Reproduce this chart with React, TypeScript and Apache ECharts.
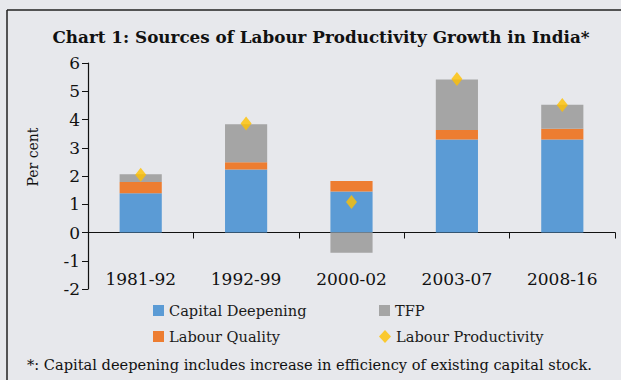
import React, { useEffect, useRef } from "react";
import * as echarts from "echarts";

const categories = ["1981-92", "1992-99", "2000-02", "2003-07", "2008-16"];
const capitalDeepening = [1.39, 2.23, 1.45, 3.29, 3.29];
const labourQuality = [0.4, 0.26, 0.37, 0.34, 0.38];
const tfp = [0.27, 1.34, -0.72, 1.79, 0.85];
const labourProductivity = [2.04, 3.86, 1.08, 5.43, 4.51];
const yTicks = { min: -2, max: 6, interval: 1 };

const FONT = "DejaVu Serif";
const BG = "#e7e8ec";

export default function App() {
  const ref = useRef<HTMLDivElement>(null);
  useEffect(() => {
    if (!ref.current) return;
    const chart = echarts.init(ref.current, null, { renderer: "svg" });
    const legendText = { fontFamily: FONT, fontSize: 14.6, color: "#1a1a1a" };
    const mkLegend = (name: string, left: number, top: number, icon: string, w: number, h: number) => ({
      data: [name],
      left,
      top,
      padding: 0,
      icon,
      itemWidth: w,
      itemHeight: h,
      textStyle: legendText,
      selectedMode: false,
    });
    chart.setOption({
      animation: false,
      backgroundColor: BG,
      grid: { left: 88, right: 6, top: 63, bottom: 91, containLabel: false },
      legend: [
        mkLegend("Capital Deepening", 153, 303, "rect", 11, 11),
        mkLegend("TFP", 379, 303, "rect", 11, 11),
        mkLegend("Labour Quality", 153, 329, "rect", 11, 11),
        mkLegend("Labour Productivity", 379, 329, "diamond", 12, 13),
      ],
      xAxis: {
        type: "category",
        data: categories,
        axisLine: { onZero: true, lineStyle: { color: "#111", width: 1.2 } },
        axisTick: { show: true, length: 6, inside: false, lineStyle: { color: "#111" } },
        axisLabel: { margin: -19, fontFamily: FONT, fontSize: 17, color: "#111" },
        splitLine: { show: false },
      },
      yAxis: {
        type: "value",
        min: yTicks.min,
        max: yTicks.max,
        interval: yTicks.interval,
        axisLine: { show: true, lineStyle: { color: "#111", width: 1.2 } },
        axisTick: { show: true, length: 6, lineStyle: { color: "#111" } },
        axisLabel: { margin: 8, fontFamily: FONT, fontSize: 17, color: "#111" },
        splitLine: { show: false },
      },
      series: [
        {
          name: "Capital Deepening",
          type: "bar",
          stack: "s",
          data: capitalDeepening,
          barWidth: "40%",
          itemStyle: { color: "#5b9bd5" },
        },
        {
          name: "Labour Quality",
          type: "bar",
          stack: "s",
          data: labourQuality,
          itemStyle: { color: "#ed7d31" },
        },
        {
          name: "TFP",
          type: "bar",
          stack: "s",
          data: tfp,
          itemStyle: { color: "#a5a5a5" },
        },
        {
          name: "Labour Productivity",
          type: "scatter",
          data: labourProductivity,
          symbol: "diamond",
          symbolSize: [11, 14],
          itemStyle: { color: "#ffc000" },
          z: 5,
        },
      ],
      graphic: [
        { type: "line", shape: { x1: 7, y1: 10, x2: 621, y2: 10 }, style: { stroke: "#222", lineWidth: 1.5 } },
        { type: "line", shape: { x1: 7, y1: 10, x2: 7, y2: 380 }, style: { stroke: "#222", lineWidth: 1.5 } },
        {
          type: "text",
          x: 321,
          y: 37,
          style: {
            text: "Chart 1: Sources of Labour Productivity Growth in India*",
            fontFamily: FONT,
            fontWeight: "bold",
            fontSize: 16.8,
            fill: "#111",
            textAlign: "center",
            textVerticalAlign: "middle",
          },
        },
        {
          type: "text",
          x: 33,
          y: 157,
          rotation: Math.PI / 2,
          style: {
            text: "Per cent",
            fontFamily: FONT,
            fontSize: 14,
            fill: "#111",
            textAlign: "center",
            textVerticalAlign: "middle",
          },
        },
        {
          type: "text",
          x: 27,
          y: 364,
          style: {
            text: "*: Capital deepening includes increase in efficiency of existing capital stock.",
            fontFamily: FONT,
            fontSize: 14.6,
            fill: "#111",
            textAlign: "left",
            textVerticalAlign: "middle",
          },
        },
      ],
    });
    return () => chart.dispose();
  }, []);
  return (
    <div
      ref={ref}
      style={{ position: "fixed", left: 0, top: 0, width: 621, height: 380 }}
    />
  );
}
